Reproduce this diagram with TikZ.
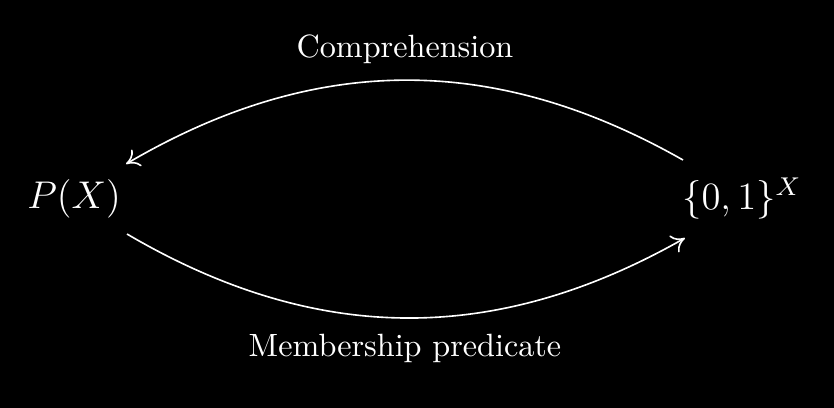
\documentclass[tikz,border=0pt]{standalone}
\usetikzlibrary{arrows.meta,calc}
\begin{document}
\begin{tikzpicture}[x=0.3106pt,y=-0.3106pt,
  every node/.style={text=white},
  obj/.style={font=\large},
  lbl/.style={font=\normalsize},
  arr/.style={draw=white,line width=0.5pt,-{To[length=4pt,width=6pt]}}]
\fill[black] (0,0) rectangle (834,408);
\useasboundingbox (0,0) rectangle (834,408);
\node[obj] (a) at (74,199) {$P(X)$};
\node[obj] (b) at (742,199) {$\{0,1\}^X$};
\node[lbl] (c) at (405,49) {Comprehension};
\node[lbl] (m) at (405,348) {Membership predicate};
\draw[arr] ($(b.center)+(-59,-39)$) to[bend right=30] ($(a.center)+(52,-35)$);
\draw[arr] ($(a.center)+(53,35)$) to[bend right=30] ($(b.center)+(-57,39)$);
\end{tikzpicture}
\end{document}
